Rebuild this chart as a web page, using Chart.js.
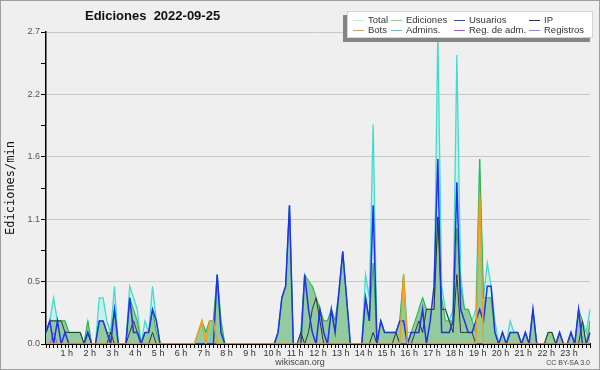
<!DOCTYPE html>
<html lang="es">
<head>
<meta charset="utf-8"/>
<title>Ediciones 2022-09-25</title>
<script src="https://cdn.jsdelivr.net/npm/chart.js"></script>
<style>
body { margin: 0; background: #efeff0; }
#wrap { position: relative; width: 600px; height: 370px; overflow: hidden; font-family: "Liberation Sans", sans-serif; }
#chart { position: absolute; left: 0; top: 0; }
#frame { position: absolute; left: 0; top: 0; width: 600px; height: 370px; box-sizing: border-box; border: 1px solid #a0a0a0; pointer-events: none; }
#title { position: absolute; left: 85px; top: 8px; font: bold 13px "Liberation Sans", sans-serif; white-space: pre; color: #111; }
#legend-shadow { position: absolute; left: 343px; top: 15px; width: 247px; height: 27px; background: #858585; }
#legend { position: absolute; left: 347px; top: 11px; width: 246px; height: 27px; box-sizing: border-box; background: #fff; border: 1px solid #d4d4d4; }
.item { position: absolute; font-size: 9.5px; line-height: 10px; color: #333; white-space: nowrap; }
.sw { display: inline-block; width: 11px; height: 1px; vertical-align: middle; margin-right: 4px; }
#site { position: absolute; left: 0; width: 600px; top: 357px; text-align: center; font-size: 9px; color: #444; }
#lic { position: absolute; right: 10px; top: 359px; font-size: 7px; color: #444; }
</style>
</head>
<body>
<div id="wrap">
<canvas id="chart" width="600" height="370"></canvas>
<div id="title">Ediciones  2022-09-25</div>
<div id="legend-shadow"></div>
<div id="legend"></div>
<div id="site">wikiscan.org</div>
<div id="lic">CC BY-SA 3.0</div>
<div id="frame"></div>
</div>
<script>
"use strict";
// one value every 10 minutes, edits per minute
const hourLabels = ["1 h","2 h","3 h","4 h","5 h","6 h","7 h","8 h","9 h","10 h","11 h","12 h",
  "13 h","14 h","15 h","16 h","17 h","18 h","19 h","20 h","21 h","22 h","23 h"];
const yTickLabels = ["0.0","0.5","1.1","1.6","2.2","2.7"];
const yMax = 2.7;

const total = [
  0.1,0.2,0.4,0.2,0.2,0.2,  0.1,0.1,0.1,0.1,0,0.2,  0,0,0.4,0.4,0.2,0.1,  0.5,0,0,0,0.5,0.4,
  0.3,0,0.2,0.1,0.5,0.2,  0,0,0,0,0,0,  0,0,0,0,0.1,0.2,  0.1,0.2,0.2,0.6,0.2,0,
  0,0,0,0,0,0,  0,0,0,0,0,0,  0,0.1,0.4,0.5,1.2,0,  0,0.1,0.6,0.5,0.5,0.4,
  0.3,0.2,0.2,0.3,0.2,0.45,  0.8,0.4,0,0,0,0,  0.6,0.4,1.9,0,0.2,0.1,  0.1,0.1,0.1,0.2,0.6,0.1,
  0.1,0.1,0.3,0.4,0.3,0.3,  0.3,2.7,0.5,0.3,0.2,0.3,  2.5,0.6,0.3,0.3,0.2,0.3,  1.6,0.4,0.7,0.5,0.2,0,
  0.1,0,0.2,0.1,0.1,0,  0.1,0,0.3,0,0,0,  0.1,0.1,0,0.1,0,0,  0.1,0,0.3,0.2,0.1,0.3
];
const ediciones = [
  0.1,0.2,0.2,0.2,0.2,0.2,  0.1,0.1,0.1,0.1,0,0.2,  0,0,0.2,0.2,0.1,0.1,  0.3,0,0,0,0.4,0.3,
  0.2,0,0.1,0.1,0.3,0.1,  0,0,0,0,0,0,  0,0,0,0,0.1,0.2,  0.1,0.2,0.2,0.6,0.2,0,
  0,0,0,0,0,0,  0,0,0,0,0,0,  0,0.1,0.4,0.5,1.2,0,  0,0.1,0.6,0.55,0.5,0.4,
  0.3,0.2,0.2,0.3,0.2,0.45,  0.8,0.4,0,0,0,0,  0.4,0.2,0.7,0,0.2,0.1,  0.1,0.1,0.1,0.2,0.6,0,
  0.1,0.2,0.3,0.4,0.3,0.3,  0.3,1.1,0.4,0.2,0.2,0.2,  1.0,0.5,0.3,0.3,0.2,0.1,  1.6,0.4,0.4,0.4,0.1,0,
  0.1,0,0.1,0.1,0.1,0,  0.1,0,0.3,0,0,0,  0.1,0.1,0,0.1,0,0,  0.1,0,0.3,0.2,0,0.2
];
const usuarios = [
  0.1,0.2,0,0.2,0,0.1,  0,0,0,0,0,0.1,  0,0,0.2,0.2,0.1,0,  0.3,0,0,0,0.4,0.1,
  0.1,0,0.1,0.1,0.3,0.2,  0,0,0,0,0,0,  0,0,0,0,0,0,  0,0,0,0.6,0.1,0,
  0,0,0,0,0,0,  0,0,0,0,0,0,  0,0.1,0.4,0.5,1.2,0,  0,0,0.6,0.3,0.1,0,
  0.3,0.1,0,0.3,0.1,0.45,  0.8,0.4,0,0,0,0,  0.4,0.2,1.2,0,0.2,0.1,  0.1,0.1,0.1,0.2,0.2,0,
  0.1,0.1,0.1,0.3,0,0.2,  0.5,1.6,0.1,0.1,0.1,0.2,  1.4,0.3,0.2,0.1,0.1,0.2,  0.3,0.2,0.5,0.5,0.1,0,
  0.1,0,0.1,0.1,0.1,0,  0.1,0,0.3,0,0,0,  0,0,0,0.1,0,0,  0.1,0,0.3,0,0,0.1
];
const ip = [
  0.1,0.2,0.2,0.2,0.2,0.1,  0.1,0.1,0.1,0.1,0,0.1,  0,0,0,0,0,0.1,  0,0,0,0,0.1,0.2,
  0.1,0,0,0,0.1,0,  0,0,0,0,0,0,  0,0,0,0,0,0,  0,0,0,0,0,0,
  0,0,0,0,0,0,  0,0,0,0,0,0,  0,0,0,0,0,0,  0,0.1,0,0.1,0.3,0.4,
  0.2,0,0,0,0,0,  0,0,0,0,0,0,  0,0,0.1,0,0,0,  0,0,0.1,0,0,0,
  0,0.1,0.2,0.1,0.3,0.3,  0.3,1.1,0.3,0.3,0.2,0.1,  0.6,0.1,0.1,0.1,0.1,0,  0,0,0,0,0,0,
  0,0,0,0,0,0,  0,0,0,0,0,0,  0.1,0.1,0,0,0,0,  0,0,0,0.2,0,0
];
const bots = [
  0,0,0,0,0,0,  0,0,0,0,0,0,  0,0,0,0,0,0,  0,0,0,0,0,0,
  0,0,0,0,0,0,  0,0,0,0,0,0,  0,0,0,0,0.1,0.2,  0,0.2,0.2,0,0,0,
  0,0,0,0,0,0,  0,0,0,0,0,0,  0,0,0,0,0,0,  0,0,0,0,0,0,
  0,0,0,0,0,0,  0,0,0,0,0,0,  0,0,0,0,0,0,  0,0,0,0,0.6,0,
  0,0,0,0,0,0,  0,0,0,0,0,0,  0,0,0,0,0,0,  1.3,0,0,0,0,0,
  0,0,0,0,0,0,  0,0,0,0,0,0,  0,0,0,0,0,0,  0,0,0,0,0,0
];
const admins = [
  0,0,0,0,0,0,  0,0,0,0,0,0,  0,0,0,0,0,0,  0,0,0,0,0,0,
  0,0,0,0,0,0,  0,0,0,0,0,0,  0,0,0,0,0,0,  0,0,0.2,0,0,0,
  0,0,0,0,0,0,  0,0,0,0,0,0,  0,0,0,0,0,0,  0,0,0,0,0,0,
  0,0,0,0,0,0,  0,0,0,0,0,0,  0,0,0,0,0,0,  0,0,0,0,0,0,
  0,0,0,0,0,0,  0,0,0,0,0,0,  0,0,0,0,0,0,  0,0,0,0,0,0,
  0,0,0,0,0,0,  0,0,0,0,0,0,  0,0,0,0,0,0,  0,0,0,0,0,0
];
const regAdm = [
  0,0,0.1,0,0,0,  0,0,0,0,0,0,  0,0,0,0,0,0,  0,0,0,0,0,0,
  0,0,0,0,0,0,  0,0,0,0,0,0,  0,0,0,0,0,0,  0,0,0,0,0,0,
  0,0,0,0,0,0,  0,0,0,0,0,0,  0,0,0,0,0,0,  0,0,0,0,0,0,
  0,0,0,0,0,0,  0,0,0,0,0,0,  0,0,0,0,0,0,  0,0,0,0,0,0,
  0,0,0,0,0,0,  0,0,0,0,0,0,  0,0,0,0,0,0,  0,0,0,0,0,0,
  0,0,0,0,0,0,  0,0,0,0,0,0,  0,0,0,0,0,0,  0,0,0,0,0,0
];
const registros = new Array(144).fill(0);

// time slots 00:00 .. 23:50
const slots = [];
for(let i = 0; i < total.length; i++){
  slots.push(String(Math.floor(i / 6)).padStart(2, "0") + ":" + (i % 6) + "0");
}

// legend order (rows of 4)
const legendNames  = ["Total", "Ediciones", "Usuarios", "IP", "Bots", "Admins.", "Reg. de adm.", "Registros"];
const legendColors = ["#b4eeee", "#8fd08f", "#3b3be0", "#333333", "#f0a030", "#40d0d8", "#c048e0", "#8888f0"];
const legendCols = [5, 43, 106, 181];

const legend = document.getElementById("legend");
legendNames.forEach((name, k) => {
  const div = document.createElement("div");
  div.className = "item";
  div.style.left = legendCols[k % 4] + "px";
  div.style.top = (3 + Math.floor(k / 4) * 10) + "px";
  div.innerHTML = `<span class="sw" style="background:${legendColors[k]}"></span>${name}`;
  legend.appendChild(div);
});

function line(label, data, color, width, extra){
  return Object.assign({
    label: label,
    data: data,
    borderColor: color,
    borderWidth: width,
    pointRadius: 0,
    tension: 0,
    fill: false
  }, extra || {});
}

// first dataset is drawn on top
const datasets = [
  line("Bots", bots, "#f0a020", 1.5),
  line("Usuarios", usuarios, "#2030ee", 1.5),
  line("IP", ip, "#333333", 1),
  line("Reg. de adm.", regAdm, "#c048e0", 1),
  line("Registros", registros, "#8888f0", 1),
  line("Admins.", admins, "#40d0d8", 1),
  line("Ediciones", ediciones, "#3aae3a", 1, {fill: "origin", backgroundColor: "rgba(136,198,142,0.85)"}),
  line("Total", total, "#40dccc", 1.3, {fill: "origin", backgroundColor: "rgba(178,236,234,0.6)"})
];

new Chart(document.getElementById("chart"), {
  type: "line",
  data: { labels: slots, datasets: datasets },
  options: {
    responsive: false,
    animation: false,
    layout: { padding: { top: 32, right: 10, left: 0, bottom: 0 } },
    plugins: { legend: { display: false }, tooltip: { enabled: false } },
    scales: {
      x: {
        z: 1,
        offset: false,
        afterFit: (s) => { s.height = 26; },
        border: { color: "#000", width: 2 },
        grid: { drawOnChartArea: false, tickLength: 4, tickColor: "#000", offset: false },
        ticks: {
          autoSkip: false, maxRotation: 0, padding: 0, labelOffset: -2,
          color: "#333", font: { family: "Liberation Sans", size: 9 },
          callback: (v, i) => (i % 6 === 0 && i > 0) ? hourLabels[i / 6 - 1] : ""
        }
      },
      y: {
        min: 0,
        max: yMax,
        afterFit: (s) => { s.width = 46; },
        afterBuildTicks: (s) => {
          const t = [];
          for(let k = 0; k <= 10; k++) t.push({ value: yMax * k / 10 });
          s.ticks = t;
        },
        border: { color: "#000", width: 1.5 },
        grid: {
          color: (c) => (c.index % 2 === 0 && c.index > 0) ? "#c8c8c8" : "rgba(0,0,0,0)",
          tickColor: "#000", tickLength: 5
        },
        ticks: {
          padding: 1, color: "#555", font: { family: "Liberation Sans", size: 9 },
          callback: (v, i) => i % 2 === 0 ? yTickLabels[i / 2] : ""
        },
        title: {
          display: true, text: "Ediciones/min", color: "#111",
          font: { family: "DejaVu Sans Mono", size: 12 }, padding: { top: 4, bottom: 0 }
        }
      }
    }
  }
});
</script>
</body>
</html>
